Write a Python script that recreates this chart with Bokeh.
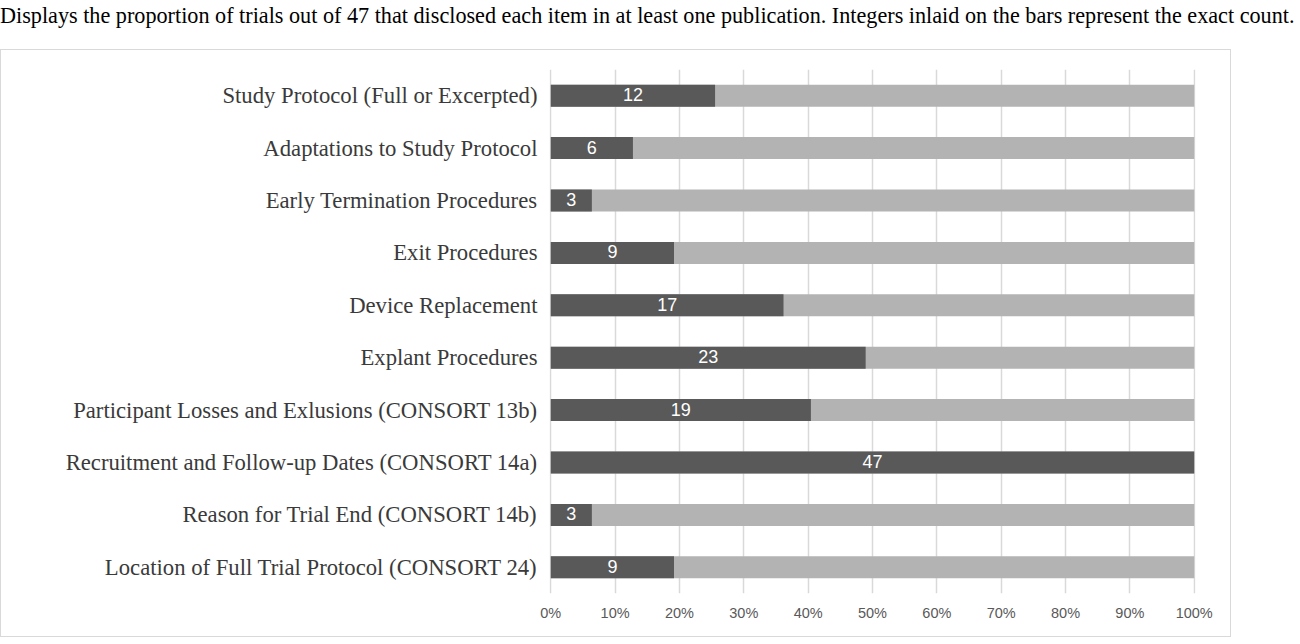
from bokeh.plotting import figure
from bokeh.models import ColumnDataSource, Range1d, FactorRange, NumeralTickFormatter, FixedTicker, Div
from bokeh.layouts import column
from bokeh.core.properties import value
from bokeh.embed import file_html
from bokeh.resources import INLINE

TOTAL = 47
items = [
    "Study Protocol (Full or Excerpted)",
    "Adaptations to Study Protocol",
    "Early Termination Procedures",
    "Exit Procedures",
    "Device Replacement",
    "Explant Procedures",
    "Participant Losses and Exlusions (CONSORT 13b)",
    "Recruitment and Follow-up Dates (CONSORT 14a)",
    "Reason for Trial End (CONSORT 14b)",
    "Location of Full Trial Protocol (CONSORT 24)",
]
counts = [12, 6, 3, 9, 17, 23, 19, 47, 3, 9]
tick_values = [0, 0.1, 0.2, 0.3, 0.4, 0.5, 0.6, 0.7, 0.8, 0.9, 1.0]
title_text = ("Displays the proportion of trials out of 47 that disclosed each item in at least one "
              "publication. Integers inlaid on the bars represent the exact count.")

frac = [c / TOTAL for c in counts]
src = ColumnDataSource(dict(
    item=items,
    frac=frac,
    one=[1.0] * len(items),
    mid=[f / 2 for f in frac],
    label=[str(c) for c in counts],
))

p = figure(
    width=1231, height=588,
    y_range=FactorRange(*items[::-1], range_padding=0),
    x_range=Range1d(-0.002, 1.002),
    output_backend="svg", toolbar_location=None,
    min_border_left=548, min_border_right=37, min_border_top=19, min_border_bottom=45,
)
p.styles = {"border": "1px solid #d9d9d9"}
p.outline_line_color = None

p.hbar(y="item", left=0, right="one", height=0.42, source=src, color="#b3b3b3", line_color=None)
p.hbar(y="item", left=0, right="frac", height=0.42, source=src, color="#595959", line_color=None)
p.text(x="mid", y="item", text="label", source=src, text_align="center", text_baseline="middle",
       text_color="white", text_font=value("Liberation Sans"), text_font_size="18px", y_offset=-1)

p.xaxis.ticker = FixedTicker(ticks=tick_values)
p.xaxis.formatter = NumeralTickFormatter(format="0%")
p.xaxis.axis_line_color = None
p.xaxis.major_tick_line_color = None
p.xaxis.minor_tick_line_color = None
p.xaxis.major_label_standoff = 5
p.xaxis.major_label_text_font = "Liberation Sans"
p.xaxis.major_label_text_font_size = "14.5px"
p.xaxis.major_label_text_color = "#595959"

p.yaxis.axis_line_color = None
p.yaxis.major_tick_line_color = None
p.yaxis.major_label_standoff = 6
p.yaxis.major_label_text_font = "Liberation Serif"
p.yaxis.major_label_text_font_size = "22.7px"
p.yaxis.major_label_text_color = "#3a3a3a"

p.ygrid.grid_line_color = None
p.xgrid.ticker = FixedTicker(ticks=tick_values)
p.xgrid.grid_line_color = "#d9d9d9"
p.xgrid.grid_line_width = 1.5

title = Div(
    text=f'<div style="font-family:\'Liberation Serif\'; font-size:22.2px; color:#000; white-space:nowrap;">{title_text}</div>',
    width=1292, height=49, margin=(0, 0, 0, 0),
)

layout = column(title, p, spacing=0)
open("out.html", "w").write(file_html(layout, INLINE))
